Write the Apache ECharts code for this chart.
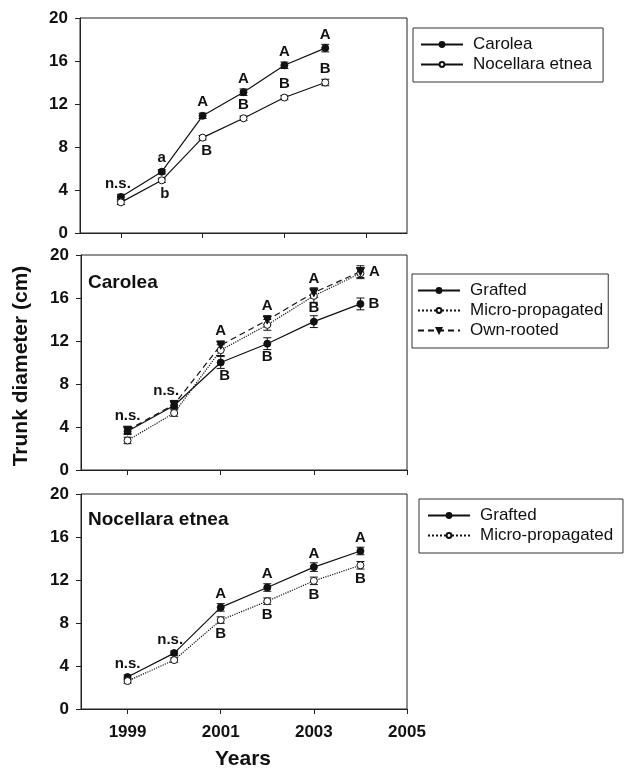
<!DOCTYPE html>
<html><head><meta charset="utf-8">
<script src="https://cdn.jsdelivr.net/npm/echarts@6/dist/echarts.min.js"></script>
<style>html,body{margin:0;padding:0;background:#fff}#c{width:626px;height:768px}</style>
</head><body><div id="c"></div><script>
// ---- data ----
const years = [1999, 2000, 2001, 2002, 2003, 2004];
const yTicks = [0, 4, 8, 12, 16, 20];
const xTickLabels = [1999, 2001, 2003, 2005];

// Panel 1: cultivars
const p1Carolea = [3.35, 5.7, 10.9, 13.1, 15.6, 17.2];
const p1CaroleaErr = [0.25, 0.2, 0.25, 0.3, 0.3, 0.35];
const p1CaroleaLetters = ['n.s.', 'a', 'A', 'A', 'A', 'A'];
const p1Nocellara = [2.85, 4.9, 8.87, 10.67, 12.6, 14.0];
const p1NocellaraErr = [0.2, 0.2, 0.2, 0.2, 0.2, 0.3];
const p1NocellaraLetters = ['', 'b', 'B', 'B', 'B', 'B'];

// Panel 2: Carolea
const p2Grafted = [3.6, 6.0, 10.0, 11.75, 13.8, 15.45];
const p2GraftedErr = [0.3, 0.3, 0.55, 0.55, 0.55, 0.55];
const p2GraftedLetters = ['', '', 'B', 'B', 'B', 'B'];
const p2Micro = [2.75, 5.3, 11.15, 13.5, 16.2, 18.3];
const p2MicroErr = [0.3, 0.3, 0.5, 0.5, 0.6, 0.5];
const p2Own = [3.7, 6.1, 11.6, 13.95, 16.5, 18.45];
const p2OwnErr = [0.3, 0.3, 0.4, 0.4, 0.45, 0.55];
const p2OwnLetters = ['n.s.', 'n.s.', 'A', 'A', 'A', 'A'];

// Panel 3: Nocellara etnea
const p3Grafted = [2.97, 5.2, 9.45, 11.3, 13.2, 14.7];
const p3GraftedErr = [0.2, 0.2, 0.35, 0.35, 0.4, 0.35];
const p3GraftedLetters = ['n.s.', 'n.s.', 'A', 'A', 'A', 'A'];
const p3Micro = [2.6, 4.55, 8.27, 10.03, 11.92, 13.37];
const p3MicroErr = [0.2, 0.2, 0.3, 0.3, 0.35, 0.35];
const p3MicroLetters = ['', '', 'B', 'B', 'B', 'B'];

// ---- label placement (style) ----
const placeTop = ['top', 'top', 'top', 'top', 'top', 'top'];
const placeP1Noc = ['bottom', 'bottom', 'bottom', 'top', 'top', 'top'];
const placeP2Own = ['top', 'top', 'top', 'top', 'top', 'right'];
const placeP2Graf = ['bottom', 'bottom', 'bottom', 'bottom', 'top', 'right'];
const placeBottom = ['bottom', 'bottom', 'bottom', 'bottom', 'bottom', 'bottom'];
const offP1Car = [-3, 0, 0, 0, 0, 0];
const offP1Noc = [0, 3, 4, 0, 0, 0];
const offP2Own = [0, -8, 0, 0, 0, 0];
const offP2Graf = [0, 0, 4, 0, 0, 0];
const offP3Graf = [0, -4, 0, 0, 0, 0];
const offNone = [0, 0, 0, 0, 0, 0];

const FONT = 'Arial, "Liberation Sans", Helvetica, sans-serif';
const INK = '#111';

function pointData(vals, letters, places, offs) {
  return years.map((yr, i) => {
    const d = { value: [yr, vals[i]] };
    if (letters && letters[i]) {
      d.label = {
        show: true, formatter: letters[i], position: places[i],
        distance: places[i] === 'right' ? 4 : 2,
        offset: [offs[i], 0]
      };
    }
    return d;
  });
}

function errSeries(gi, vals, errs) {
  return {
    type: 'custom', xAxisIndex: gi, yAxisIndex: gi, z: 2, silent: true,
    data: years.map((yr, i) => [yr, vals[i], errs[i]]),
    encode: { x: 0, y: 1 },
    renderItem(params, api) {
      const x = api.value(0), y = api.value(1), e = api.value(2);
      const a = api.coord([x, y + e]), b = api.coord([x, y - e]);
      const w = 4;
      const st = { stroke: INK, lineWidth: 1 };
      return {
        type: 'group', children: [
          { type: 'line', shape: { x1: a[0], y1: a[1], x2: b[0], y2: b[1] }, style: st },
          { type: 'line', shape: { x1: a[0] - w, y1: a[1], x2: a[0] + w, y2: a[1] }, style: st },
          { type: 'line', shape: { x1: b[0] - w, y1: b[1], x2: b[0] + w, y2: b[1] }, style: st }
        ]
      };
    }
  };
}

function lineSeries(name, gi, vals, kind, letters, places, offs) {
  const s = {
    name, type: 'line', xAxisIndex: gi, yAxisIndex: gi, z: 3,
    data: pointData(vals, letters, places || placeTop, offs || offNone),
    symbolSize: 7, symbol: 'circle',
    lineStyle: { color: INK, width: 1.2, type: 'solid' },
    itemStyle: { color: INK, borderColor: INK, borderWidth: 1 },
    label: { show: false, fontFamily: FONT, fontWeight: 'bold', fontSize: 15, color: INK },
    emphasis: { disabled: true }
  };
  if (kind === 'open') {
    s.itemStyle.color = '#fff';
    s.lineStyle.type = 'dotted';
  } else if (kind === 'openSolid') {
    s.itemStyle.color = '#fff';
  } else if (kind === 'tri') {
    s.symbol = 'triangle'; s.symbolRotate = 180; s.symbolSize = 8;
    s.lineStyle.type = [6, 4];
  }
  return s;
}

const grids = [
  { left: 80, top: 18, width: 327, height: 215 },
  { left: 81, top: 255, width: 326, height: 215 },
  { left: 81, top: 494, width: 326, height: 215 }
].map(g => Object.assign(g, { show: true, borderColor: '#222', borderWidth: 1, backgroundColor: 'transparent' }));

const xMax = [2006, 2005, 2005];
const xAxes = xMax.map((mx, i) => ({
  type: 'value', gridIndex: i, min: 1998, max: mx,
  axisLine: { lineStyle: { color: '#222', width: 1 } },
  axisTick: { show: true, customValues: xTickLabels, length: 5, lineStyle: { color: '#222' } },
  axisLabel: {
    show: i === 2, customValues: xTickLabels, fontFamily: FONT, fontWeight: 'bold',
    fontSize: 17, color: INK, margin: 15, formatter: v => String(v)
  },
  splitLine: { show: false }
}));

const yAxes = [0, 1, 2].map(i => ({
  type: 'value', gridIndex: i, min: 0, max: 20, interval: 4,
  axisLine: { show: true, lineStyle: { color: '#222', width: 1 } },
  axisTick: { show: true, length: 5, lineStyle: { color: '#222' } },
  axisLabel: {
    fontFamily: FONT, fontWeight: 'bold', fontSize: 17, color: INK, margin: 12,
    formatter: v => yTicks.includes(v) ? String(v) : ''
  },
  splitLine: { show: false }
}));

const legendBase = {
  orient: 'vertical', borderColor: '#333', borderWidth: 1,
  itemWidth: 42, itemHeight: 6, itemGap: 3,
  textStyle: { fontFamily: FONT, fontSize: 17, color: INK, padding: [0, 0, 0, 5] },
  selectedMode: false
};

const option = {
  animation: false,
  backgroundColor: '#fff',
  grid: grids,
  xAxis: xAxes,
  yAxis: yAxes,
  legend: [
    Object.assign({}, legendBase, { data: ['Carolea', 'Nocellara etnea'], left: 413, top: 28, padding: [8, 11, 9, 7] }),
    Object.assign({}, legendBase, { data: ['Grafted', 'Micro-propagated', 'Own-rooted'], left: 412, top: 274, padding: [8, 5, 9, 5] }),
    Object.assign({}, legendBase, { data: ['Grafted ', 'Micro-propagated '], left: 419, top: 499, padding: [8, 5, 9, 8] })
  ],
  graphic: [
    { type: 'text', x: 21, y: 366, rotation: Math.PI / 2,
      style: { text: 'Trunk diameter (cm)', font: 'bold 21px ' + FONT, fill: INK, align: 'center', verticalAlign: 'middle' } },
    { type: 'text', x: 243, y: 759,
      style: { text: 'Years', font: 'bold 21px ' + FONT, fill: INK, align: 'center', verticalAlign: 'middle' } },
    { type: 'text', x: 88, y: 283,
      style: { text: 'Carolea', font: 'bold 19px ' + FONT, fill: INK, align: 'left', verticalAlign: 'middle' } },
    { type: 'text', x: 88, y: 520,
      style: { text: 'Nocellara etnea', font: 'bold 19px ' + FONT, fill: INK, align: 'left', verticalAlign: 'middle' } }
  ],
  series: [
    errSeries(0, p1Carolea, p1CaroleaErr),
    errSeries(0, p1Nocellara, p1NocellaraErr),
    lineSeries('Carolea', 0, p1Carolea, 'filled', p1CaroleaLetters, placeTop, offP1Car),
    lineSeries('Nocellara etnea', 0, p1Nocellara, 'openSolid', p1NocellaraLetters, placeP1Noc, offP1Noc),

    errSeries(1, p2Grafted, p2GraftedErr),
    errSeries(1, p2Micro, p2MicroErr),
    errSeries(1, p2Own, p2OwnErr),
    lineSeries('Grafted', 1, p2Grafted, 'filled', p2GraftedLetters, placeP2Graf, offP2Graf),
    lineSeries('Micro-propagated', 1, p2Micro, 'open'),
    lineSeries('Own-rooted', 1, p2Own, 'tri', p2OwnLetters, placeP2Own, offP2Own),

    errSeries(2, p3Grafted, p3GraftedErr),
    errSeries(2, p3Micro, p3MicroErr),
    lineSeries('Grafted ', 2, p3Grafted, 'filled', p3GraftedLetters, placeTop, offP3Graf),
    lineSeries('Micro-propagated ', 2, p3Micro, 'open', p3MicroLetters, placeBottom, offNone)
  ]
};

const chart = echarts.init(document.getElementById('c'), null, { renderer: 'canvas' });
chart.setOption(option);
</script></body></html>
